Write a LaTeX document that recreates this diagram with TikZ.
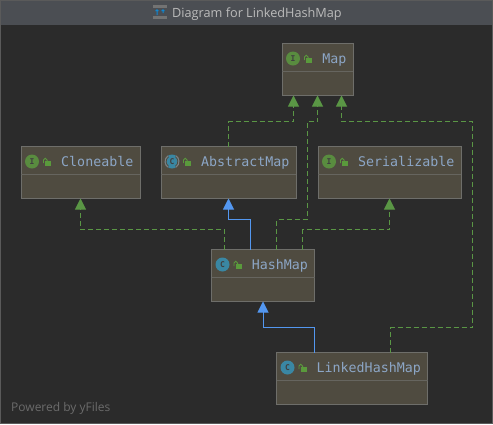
\documentclass[tikz,border=0pt]{standalone}
\usepackage{fontspec}
\setmainfont{Open Sans}
\setmonofont{DejaVu Sans Mono}
\usetikzlibrary{arrows.meta,positioning,calc}

\definecolor{canvasbg}{HTML}{2B2B2B}
\definecolor{framegray}{HTML}{5A5A5A}
\definecolor{titlebg}{HTML}{4B4E53}
\definecolor{titlefg}{HTML}{BBBBBB}
\definecolor{boxbg}{HTML}{4F4B40}
\definecolor{boxline}{HTML}{6E6E6A}
\definecolor{labelfg}{HTML}{8CA6C6}
\definecolor{igreen}{HTML}{598C3F}
\definecolor{cblue}{HTML}{3A87A3}
\definecolor{lockgreen}{HTML}{5A9A3C}
\definecolor{depgreen}{HTML}{5A9645}
\definecolor{extblue}{HTML}{5397F0}

\tikzset{
  umlbox/.style={draw=boxline,fill=boxbg,line width=1pt,minimum height=52pt,inner sep=0pt,outer sep=0pt},
  divider/.style={draw=boxline!75!boxbg,line width=0.8pt},
  badge/.style={circle,minimum size=14pt,inner sep=0pt,text=black!75,font=\ttfamily\bfseries\fontsize{8}{8}\selectfont},
  boxlabel/.style={anchor=base east,inner sep=0pt,text=labelfg,font=\ttfamily\fontsize{13.3}{14}\selectfont},
  impl/.style={draw=depgreen,line width=1pt,dash pattern=on 5pt off 3pt,-{Triangle[length=11pt,width=11pt,fill=depgreen,sep=0pt]}},
  extends/.style={draw=extblue,line width=1pt,-{Triangle[length=11pt,width=11pt,fill=extblue]}}
}

% divider, badge, lock and name of one box
\newcommand{\boxhead}[4]{
  \draw[divider] ([yshift=-28pt]#1.north west) -- ([yshift=-28pt]#1.north east);
  \node[badge,fill=#2] (#1badge) at ([xshift=11pt,yshift=-15pt]#1.north west) {#3};
  \fill[lockgreen] ([xshift=24pt,yshift=-19pt]#1.north west) rectangle ++(6pt,5pt);
  \draw[lockgreen,line width=0.9pt] ([xshift=22.5pt,yshift=-16.5pt]#1.north west) -- ++(0pt,3pt) arc (180:0:1.8pt) -- ++(0pt,-1pt);
  \node[boxlabel] (#1label) at ([xshift=-6.5pt,yshift=-20pt]#1.north east) {#4};
}

\begin{document}
\begin{tikzpicture}[x=1pt,y=-1pt]
    \useasboundingbox (0,0) rectangle (493,424);
    \fill[canvasbg] (0,0) rectangle (493,424);
    \fill[titlebg] (0,0) rectangle (493,25);
    \draw[framegray,line width=1pt] (0.5,0.5) rectangle (492.5,423.5);

    % title bar
    \node[text=titlefg,font=\fontsize{12.7}{14}\selectfont,anchor=base west,inner sep=0pt] (title) at (172,17.5) {Diagram for LinkedHashMap};
    \fill[black!10!gray] (153,5) rectangle (167,8);
    \fill[black!10!gray] (153,16) rectangle (167,19);
    \fill[cyan!70!blue] (157,9) -- (155,11) -- (156.5,11) -- (156.5,15) -- (157.5,15) -- (157.5,11) -- (159,11) -- cycle;
    \fill[cyan!70!blue] (163,9) -- (161,11) -- (162.5,11) -- (162.5,13) -- (163.5,13) -- (163.5,11) -- (165,11) -- cycle;

    % boxes
    \node[umlbox,minimum width=71pt] (map) at (317.5,69.5) {};
    \node[umlbox,minimum width=119pt] (cloneable) at (80.5,172.5) {};
    \node[umlbox,minimum width=135pt,right=21pt of cloneable] (abstractmap) {};
    \node[umlbox,minimum width=143pt,right=22pt of abstractmap] (serializable) {};
    \node[umlbox,minimum width=103pt] (hashmap) at (263,275.5) {};
    \node[umlbox,minimum width=151pt] (linkedhashmap) at (352,378.5) {};

    \boxhead{map}{igreen}{I}{Map}
    \boxhead{cloneable}{igreen}{I}{Cloneable}
    \boxhead{abstractmap}{cblue}{C}{AbstractMap}
    \boxhead{serializable}{igreen}{I}{Serializable}
    \boxhead{hashmap}{cblue}{C}{HashMap}
    \boxhead{linkedhashmap}{cblue}{C}{LinkedHashMap}

    % abstract class mark
    \draw[boxbg,line width=0.9pt] (abstractmapbadge.center) ++(125:5.9pt) arc (125:235:5.9pt);
    \draw[boxbg,line width=0.9pt] (abstractmapbadge.center) ++(-55:5.9pt) arc (-55:55:5.9pt);
    \draw[gray,line width=1pt] (abstractmapbadge.center) ++(125:7pt) arc (125:235:7pt);
    \draw[gray,line width=1pt] (abstractmapbadge.center) ++(-55:7pt) arc (-55:55:7pt);

    % connectors
    \draw[impl] (abstractmap.north) -- ++(0,-25) -| ([xshift=-24pt]map.south);
    \draw[impl] ([xshift=13.5pt]hashmap.north) -- ++(0,-30) -- ++(30.5,0) -- ++(0,-98) -| (map.south);
    \draw[impl] ([xshift=38.5pt]linkedhashmap.north) -- ++(0,-25) -- ++(82,0) -- ++(0,-206) -| ([xshift=24pt]map.south);
    \draw[impl] ([xshift=-38.5pt]hashmap.north) -- ++(0,-20) -| (cloneable.south);
    \draw[impl] ([xshift=39.5pt]hashmap.north) -- ++(0,-20) -| (serializable.south);
    \draw[extends] ([xshift=-12.5pt]hashmap.north) -- ++(0,-30) -| (abstractmap.south);
    \draw[extends] ([xshift=-37.5pt]linkedhashmap.north) -- ++(0,-25) -| (hashmap.south);

    \node[text=framegray!90!white,font=\fontsize{12}{14}\selectfont,anchor=base west,inner sep=0pt] (powered) at (11,411) {Powered by yFiles};
\end{tikzpicture}
\end{document}
